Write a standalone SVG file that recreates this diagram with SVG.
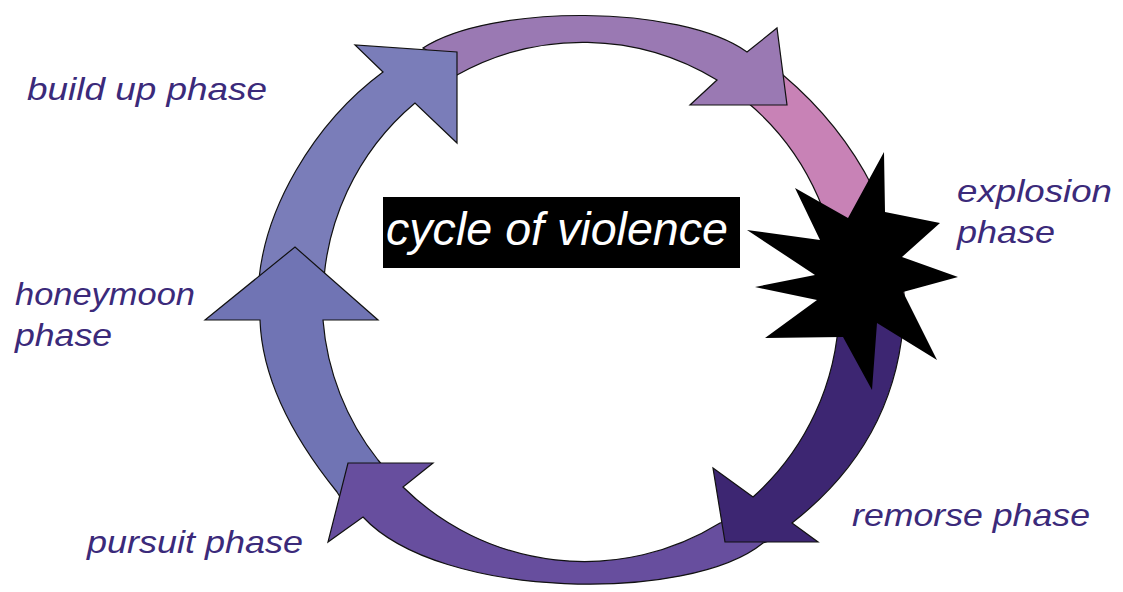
<svg xmlns="http://www.w3.org/2000/svg" width="1123" height="592" viewBox="0 0 1123 592">
<style>
.arr{stroke:#111;stroke-width:1.2;stroke-linejoin:miter}
.lbl{font-family:"Liberation Sans",Arial,sans-serif;font-style:italic;font-size:32px;fill:#3b2a7a}
.title{font-family:"Liberation Sans",Arial,sans-serif;font-style:italic;font-size:46px;fill:#ffffff}
</style>
<rect width="1123" height="592" fill="#ffffff"/>
<g id="connectors">
<path id="pink" class="arr" fill="#c882b6" d="M747,102 L780,68 L783,75 C860,140 905,230 905,315 L839,315 A258,258 0 0 0 747,102 Z"/>
<path id="top-arrow" class="arr" fill="#9a79b3" d="M747,52 L777,28 L787,105 L690,105 L717,80 A258,258 0 0 0 457,75 L445,70 L430,52 L423,48 C490,4 680,4 747,52 Z"/>
<path id="buildup-arrow" class="arr" fill="#7a7db9" d="M383,72 L355,45 L457,52 L457,143 L415,103 A258,258 0 0 0 323,300 L258,300 C258,210 318,120 383,72 Z"/>
<path id="honeymoon-arrow" class="arr" fill="#7074b4" d="M205,320 L295,247 L378,320 L323,320 A258,258 0 0 0 378,460 L395,480 L345,505 L337,492 C295,440 262,380 260,320 Z"/>
<path id="pursuit-arrow" class="arr" fill="#674e9e" d="M348,463 L433,463 L403,487 A258,258 0 0 0 720,523 L740,518 L778,538 L763,543 C690,603 440,600 363,517 L328,542 Z"/>
<path id="remorse-arrow" class="arr" fill="#3d2672" d="M713,468 L753,497 A258,258 0 0 0 839,312 L904,312 C900,400 860,470 792,523 L818,542 L725,542 Z"/>
</g>
<g id="explosion">
<polygon fill="#000000" points="884,152 848,218 795,188 820,240 747,230 815,275 755,287 817,300 765,338 843,337 872,390 877,323 937,360 903,292 958,277 902,257 940,223 885,212"/>
</g>
<g id="title">
<rect x="383" y="197" width="357" height="71" fill="#000000"/>
<text class="title" x="386" y="245" textLength="342" lengthAdjust="spacingAndGlyphs">cycle of violence</text>
</g>
<g id="label-buildup"><text class="lbl" x="27" y="100" textLength="240" lengthAdjust="spacingAndGlyphs">build up phase</text></g>
<g id="label-honeymoon">
<text class="lbl" x="15" y="305" textLength="180" lengthAdjust="spacingAndGlyphs">honeymoon</text>
<text class="lbl" x="15" y="346" textLength="97" lengthAdjust="spacingAndGlyphs">phase</text>
</g>
<g id="label-explosion">
<text class="lbl" x="957" y="202" textLength="155" lengthAdjust="spacingAndGlyphs">explosion</text>
<text class="lbl" x="957" y="243" textLength="98" lengthAdjust="spacingAndGlyphs">phase</text>
</g>
<g id="label-pursuit"><text class="lbl" x="87" y="553" textLength="216" lengthAdjust="spacingAndGlyphs">pursuit phase</text></g>
<g id="label-remorse"><text class="lbl" x="852" y="526" textLength="238" lengthAdjust="spacingAndGlyphs">remorse phase</text></g>
</svg>
